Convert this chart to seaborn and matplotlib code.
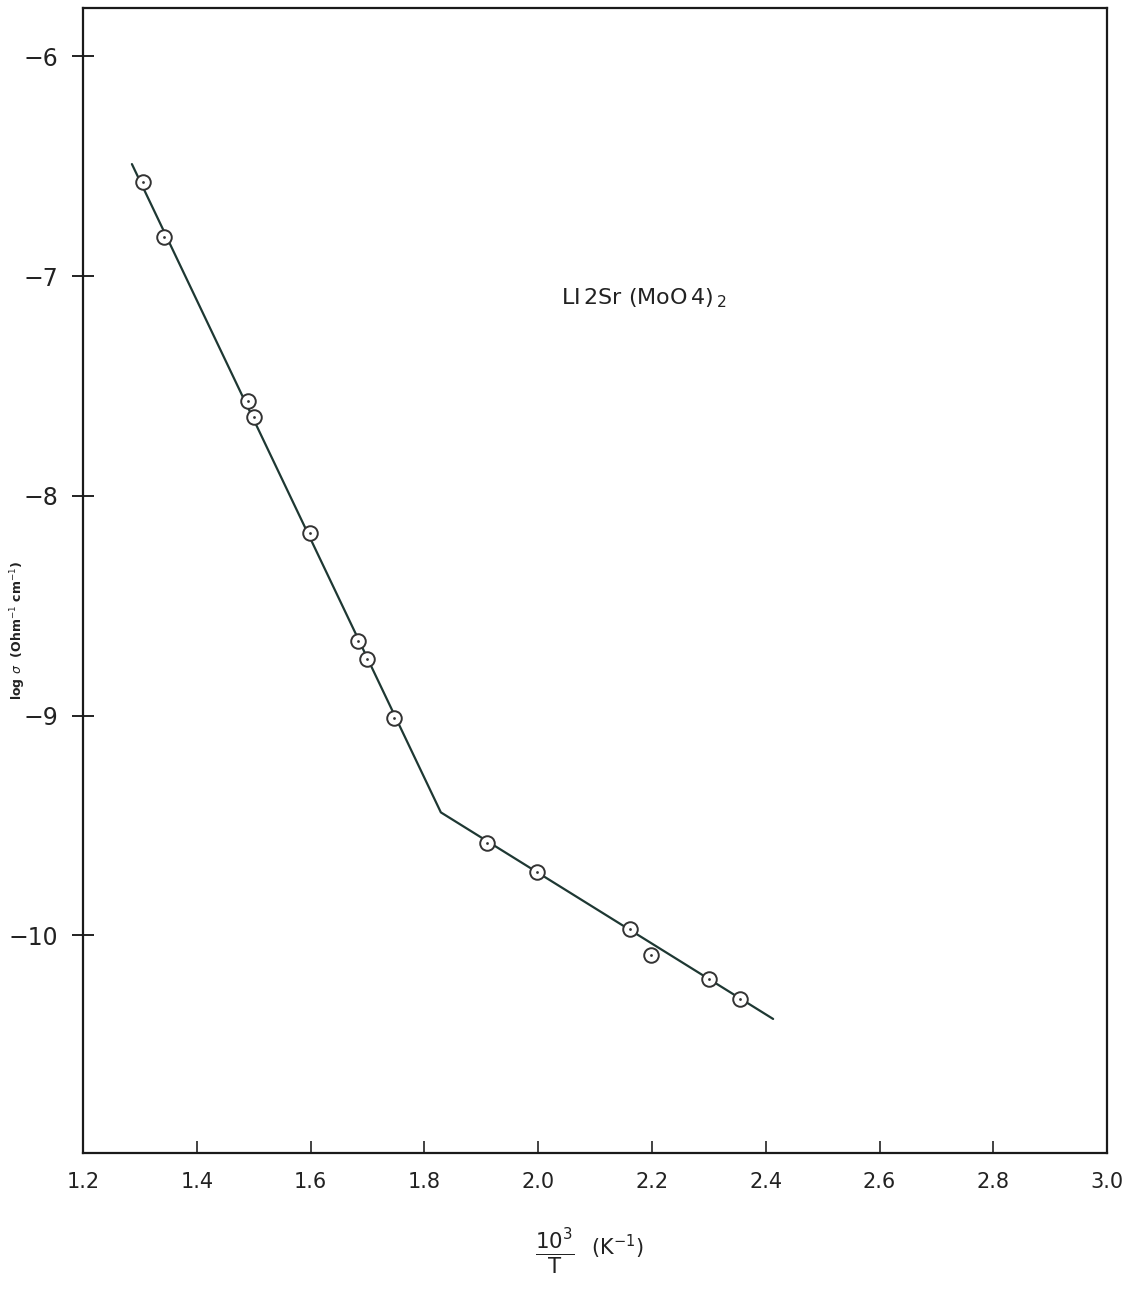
import matplotlib
matplotlib.use("Agg")
import matplotlib.pyplot as plt
import seaborn as sns
import pandas as pd

# measured points: 10^3/T vs log sigma
inv_t = [1.305, 1.342, 1.490, 1.500, 1.599, 1.683, 1.699, 1.747,
         1.910, 1.998, 2.161, 2.198, 2.300, 2.355]
log_sigma = [-6.57, -6.82, -7.57, -7.64, -8.17, -8.66, -8.74, -9.01,
             -9.58, -9.71, -9.97, -10.09, -10.20, -10.29]

# fitted straight-line segments (two regimes)
fit_x = [1.286, 1.829, 2.413]
fit_y = [-6.49, -9.44, -10.38]

x_ticks = [1.2, 1.4, 1.6, 1.8, 2.0, 2.2, 2.4, 2.6, 2.8, 3.0]
x_labels = ["1.2", "1.4", "1.6", "1.8", "2.0", "2.2", "2.4", "2.6", "2.8", "3.0"]
y_ticks = [-6, -7, -8, -9, -10]

df_pts = pd.DataFrame({"x": inv_t, "y": log_sigma})
df_fit = pd.DataFrame({"x": fit_x, "y": fit_y})

sns.set_style("white")
plt.rcParams["font.family"] = ["DejaVu Sans"]

ink = "#1e3833"
fig = plt.figure(figsize=(11.32, 12.99), dpi=100)
ax = fig.add_axes([0.0733, 0.1124, 0.9047, 0.8814])

sns.lineplot(data=df_fit, x="x", y="y", ax=ax, color=ink, linewidth=1.6,
             sort=False, estimator=None)
sns.scatterplot(data=df_pts, x="x", y="y", ax=ax, marker="o", s=110,
                facecolor="white", edgecolor="#333333", linewidth=1.4, zorder=3)
sns.scatterplot(data=df_pts, x="x", y="y", ax=ax, marker="o", s=4,
                color="#333333", linewidth=0, zorder=4)

ax.set_xlim(1.2, 3.0)
ax.set_ylim(-10.99, -5.78)
ax.set_xticks(x_ticks)
ax.set_xticklabels(x_labels)
ax.set_yticks(y_ticks)
ax.set_yticklabels([f"\u2212{abs(v)}" for v in y_ticks])
ax.tick_params(axis="x", bottom=True, direction="in", length=9, width=1.2,
               pad=14, labelsize=15, colors="#222222")
ax.tick_params(axis="y", left=True, direction="inout", length=16, width=1.4,
               pad=10, labelsize=17, colors="#222222")
# no tick mark drawn at the corner (1.2) or the right edge (3.0)
ax.xaxis.get_major_ticks()[0].tick1line.set_visible(False)
ax.xaxis.get_major_ticks()[-1].tick1line.set_visible(False)
for sp in ax.spines.values():
    sp.set_color("#1a1a1a")
    sp.set_linewidth(1.6)
ax.set_xlabel("")
ax.set_ylabel("")

ax.text(2.04, -7.1, r"LI$\,$2Sr (MoO$\,$4)$_{\,2}$", fontsize=16,
        color="#222222", ha="left", va="center")

fig.text(0.49, 0.036, r"$\frac{10^3}{\mathrm{T}}$", fontsize=22,
         ha="center", va="center", color="#222222")
fig.text(0.545, 0.040, r"(K$^{-1}$)", fontsize=15, ha="center",
         va="center", color="#222222")
fig.text(0.016, 0.515, r"log $\sigma$  (Ohm$^{-1}$ cm$^{-1}$)", fontsize=9,
         fontweight="bold", rotation=90, ha="center", va="center",
         color="#222222")

fig.savefig("out.png", dpi=100)
